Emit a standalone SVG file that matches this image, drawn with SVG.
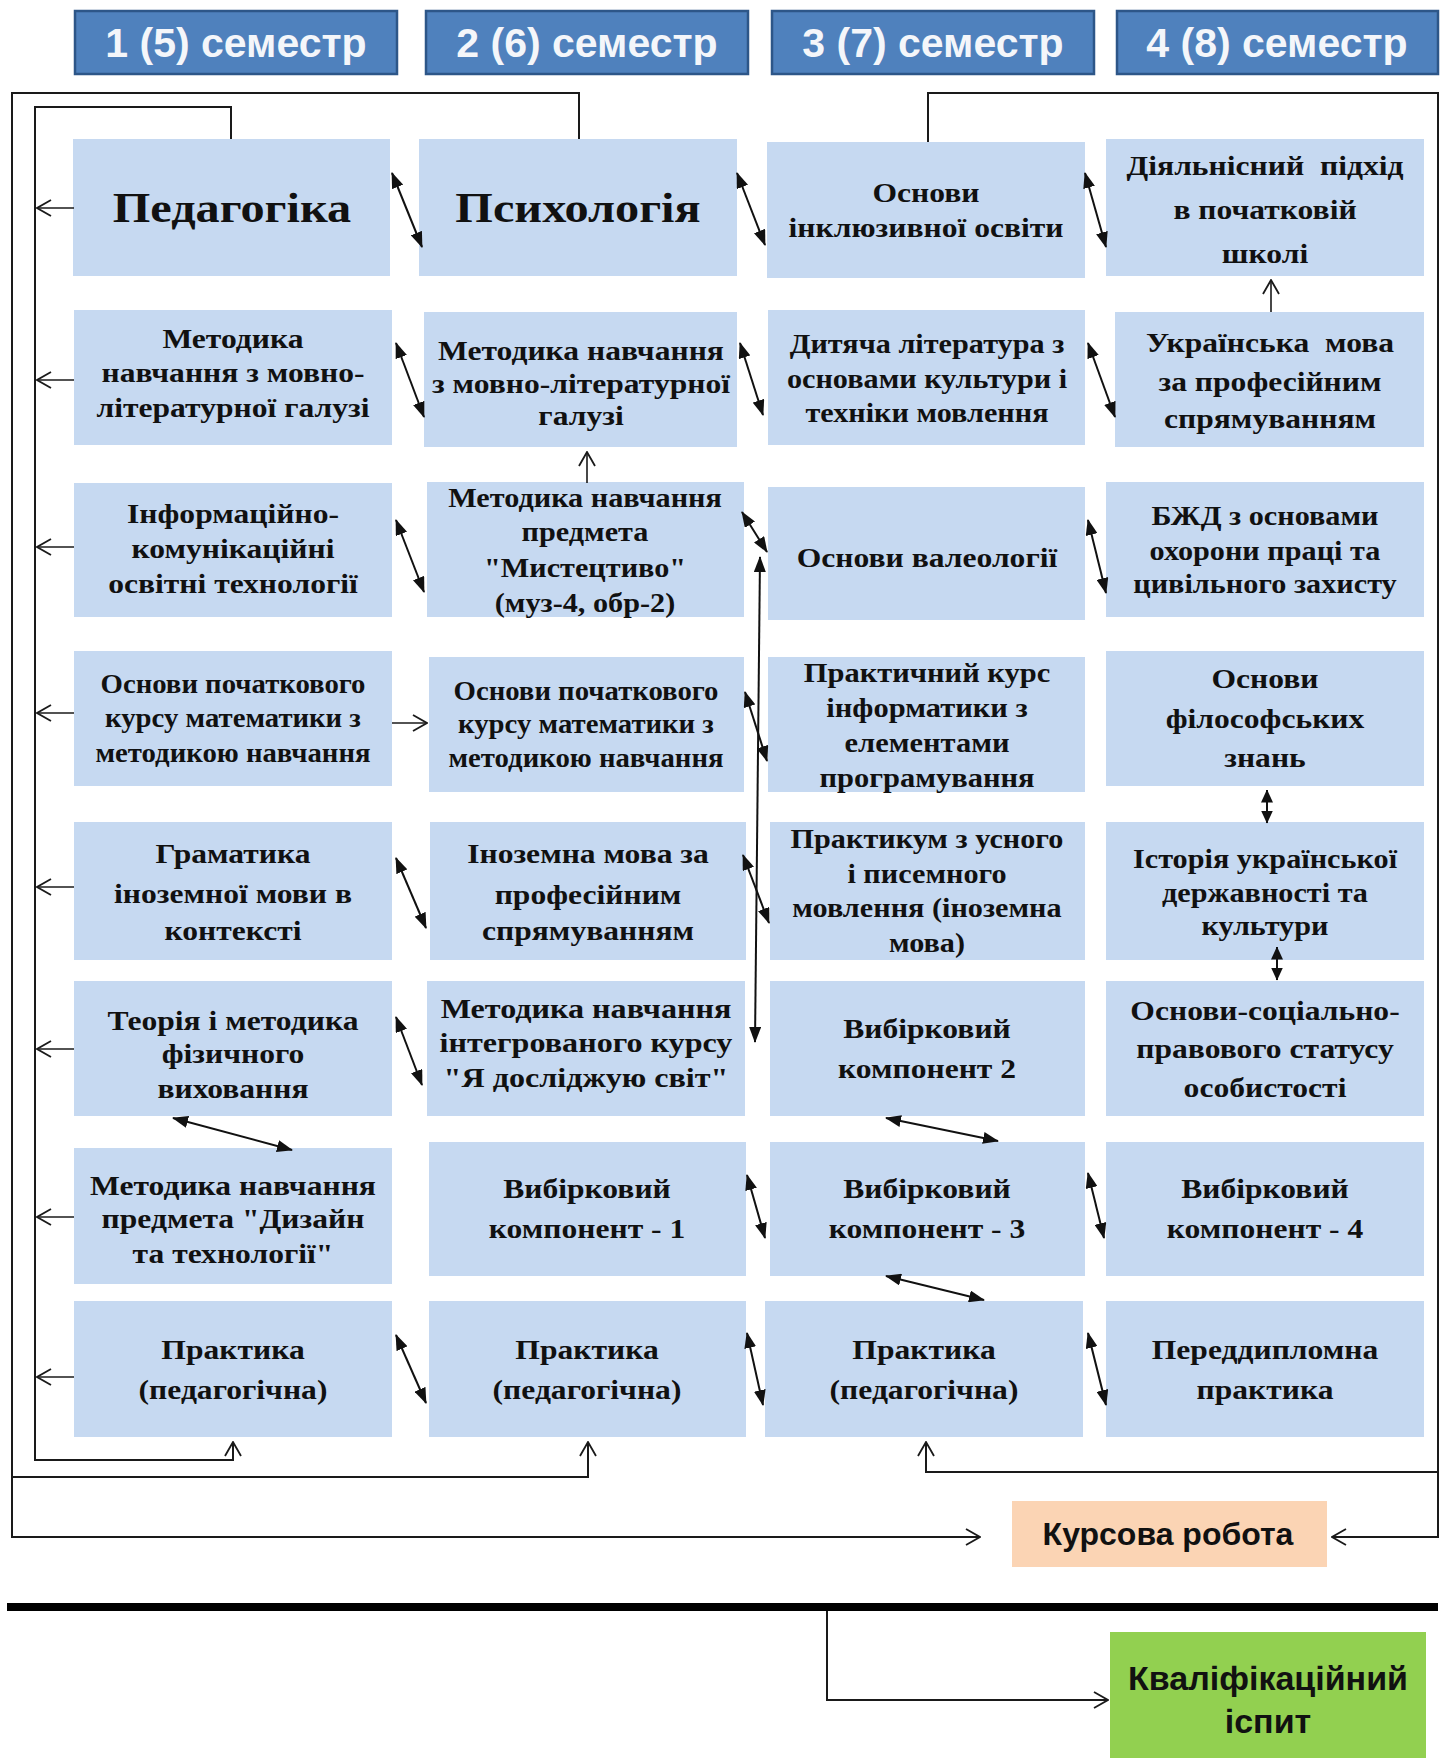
<svg xmlns="http://www.w3.org/2000/svg" width="1445" height="1758" viewBox="0 0 1445 1758">
<defs>
<style>
.n{fill:#c6d9f1}
.t{font-family:"Liberation Serif","Times New Roman",serif;font-weight:bold;font-size:27px;text-anchor:middle;fill:#111}
.big{font-size:42px}
.h{fill:#4f81bd;stroke:#2d5688;stroke-width:2.5}
.ht{font-family:"Liberation Sans",Arial,sans-serif;font-weight:bold;font-size:41px;text-anchor:middle;fill:#f4f6fa}
.ct{font-family:"Liberation Sans",Arial,sans-serif;font-weight:bold;font-size:32px;text-anchor:middle;fill:#111}
.fr{fill:none;stroke:#1a1a1a;stroke-width:2}
.oa{fill:none;stroke:#1a1a1a;stroke-width:1.6;marker-end:url(#open)}
.da{fill:none;stroke:#111;stroke-width:2;marker-start:url(#fill);marker-end:url(#fill)}
.ds{fill:none;stroke:#111;stroke-width:2;marker-start:url(#fills);marker-end:url(#fills)}
</style>
<marker id="open" viewBox="0 0 16 18" refX="15" refY="9" markerWidth="16" markerHeight="18" markerUnits="userSpaceOnUse" orient="auto">
<path d="M1,1 L15,9 L1,17" fill="none" stroke="#1a1a1a" stroke-width="1.8"/>
</marker>
<marker id="fill" viewBox="0 0 16 12" refX="15" refY="6" markerWidth="16" markerHeight="12" markerUnits="userSpaceOnUse" orient="auto-start-reverse">
<path d="M0,0 L16,6 L0,12 z" fill="#111"/>
</marker>
<marker id="fills" viewBox="0 0 13 12" refX="12.5" refY="6" markerWidth="13" markerHeight="12" markerUnits="userSpaceOnUse" orient="auto-start-reverse">
<path d="M0,0 L13,6 L0,12 z" fill="#111"/>
</marker>
</defs>
<rect width="1445" height="1758" fill="#ffffff"/>

<g id="headers">
<g id="h1"><rect class="h" x="75" y="11" width="322" height="63"/><text class="ht" x="236" y="57">1 (5) семестр</text></g>
<g id="h2"><rect class="h" x="426" y="11" width="322" height="63"/><text class="ht" x="587" y="57">2 (6) семестр</text></g>
<g id="h3"><rect class="h" x="772" y="11" width="322" height="63"/><text class="ht" x="933" y="57">3 (7) семестр</text></g>
<g id="h4"><rect class="h" x="1117" y="11" width="321" height="63"/><text class="ht" x="1277" y="57">4 (8) семестр</text></g>
</g>

<g id="r1c1"><rect class="n" x="73" y="139" width="317" height="137"/><text class="t big" transform="matrix(1.15 0 0 1 232 0)" x="0" y="222">Педагогіка</text></g>
<g id="r1c2"><rect class="n" x="419" y="139" width="318" height="137"/><text class="t big" transform="matrix(1.15 0 0 1 578 0)" x="0" y="222">Психологія</text></g>
<g id="r1c3"><rect class="n" x="767" y="142" width="318" height="136"/><text class="t" transform="matrix(1.17 0 0 1 926 0)"><tspan x="0" y="202">Основи</tspan><tspan x="0" y="237">інклюзивної освіти</tspan></text></g>
<g id="r1c4"><rect class="n" x="1106" y="139" width="318" height="137"/><text class="t" style="white-space:pre" transform="matrix(1.17 0 0 1 1265 0)"><tspan x="0" y="175">Діяльнісний  підхід</tspan><tspan x="0" y="219">в початковій</tspan><tspan x="0" y="263">школі</tspan></text></g>

<g id="r2c1"><rect class="n" x="74" y="310" width="318" height="135"/><text class="t" transform="matrix(1.17 0 0 1 233 0)"><tspan x="0" y="348">Методика</tspan><tspan x="0" y="382">навчання з мовно-</tspan><tspan x="0" y="417">літературної галузі</tspan></text></g>
<g id="r2c2"><rect class="n" x="424" y="312" width="313" height="135"/><text class="t" transform="matrix(1.17 0 0 1 581 0)"><tspan x="0" y="360">Методика навчання</tspan><tspan x="0" y="393">з мовно-літературної</tspan><tspan x="0" y="425">галузі</tspan></text></g>
<g id="r2c3"><rect class="n" x="768" y="310" width="317" height="135"/><text class="t" transform="matrix(1.12 0 0 1 927 0)"><tspan x="0" y="353">Дитяча література з</tspan><tspan x="0" y="388">основами культури і</tspan><tspan x="0" y="422">техніки мовлення</tspan></text></g>
<g id="r2c4"><rect class="n" x="1115" y="312" width="309" height="135"/><text class="t" style="white-space:pre" transform="matrix(1.17 0 0 1 1270 0)"><tspan x="0" y="352">Українська  мова</tspan><tspan x="0" y="391">за професійним</tspan><tspan x="0" y="428">спрямуванням</tspan></text></g>

<g id="r3c1"><rect class="n" x="74" y="483" width="318" height="134"/><text class="t" transform="matrix(1.17 0 0 1 233 0)"><tspan x="0" y="523">Інформаційно-</tspan><tspan x="0" y="558">комунікаційні</tspan><tspan x="0" y="593">освітні технології</tspan></text></g>
<g id="r3c2"><rect class="n" x="427" y="482" width="317" height="135"/><text class="t" transform="matrix(1.12 0 0 1 585 0)"><tspan x="0" y="507">Методика навчання</tspan><tspan x="0" y="541">предмета</tspan><tspan x="0" y="577">"Мистецтиво"</tspan><tspan x="0" y="612">(муз-4, обр-2)</tspan></text></g>
<g id="r3c3"><rect class="n" x="768" y="487" width="317" height="133"/><text class="t" transform="matrix(1.17 0 0 1 927 0)" x="0" y="567">Основи валеології</text></g>
<g id="r3c4"><rect class="n" x="1106" y="482" width="318" height="135"/><text class="t" transform="matrix(1.12 0 0 1 1265 0)"><tspan x="0" y="525">БЖД з основами</tspan><tspan x="0" y="560">охорони праці та</tspan><tspan x="0" y="593">цивільного захисту</tspan></text></g>

<g id="r4c1"><rect class="n" x="74" y="651" width="318" height="135"/><text class="t" transform="matrix(1.065 0 0 1 233 0)"><tspan x="0" y="693">Основи початкового</tspan><tspan x="0" y="727">курсу математики з</tspan><tspan x="0" y="762">методикою навчання</tspan></text></g>
<g id="r4c2"><rect class="n" x="429" y="657" width="315" height="135"/><text class="t" transform="matrix(1.065 0 0 1 586 0)"><tspan x="0" y="700">Основи початкового</tspan><tspan x="0" y="733">курсу математики з</tspan><tspan x="0" y="767">методикою навчання</tspan></text></g>
<g id="r4c3"><rect class="n" x="768" y="657" width="317" height="135"/><text class="t" transform="matrix(1.13 0 0 1 927 0)"><tspan x="0" y="682">Практичний курс</tspan><tspan x="0" y="717">інформатики з</tspan><tspan x="0" y="752">елементами</tspan><tspan x="0" y="787">програмування</tspan></text></g>
<g id="r4c4"><rect class="n" x="1106" y="651" width="318" height="135"/><text class="t" transform="matrix(1.17 0 0 1 1265 0)"><tspan x="0" y="688">Основи</tspan><tspan x="0" y="728">філософських</tspan><tspan x="0" y="767">знань</tspan></text></g>

<g id="r5c1"><rect class="n" x="74" y="822" width="318" height="138"/><text class="t" transform="matrix(1.17 0 0 1 233 0)"><tspan x="0" y="863">Граматика</tspan><tspan x="0" y="903">іноземної мови в</tspan><tspan x="0" y="940">контексті</tspan></text></g>
<g id="r5c2"><rect class="n" x="430" y="822" width="316" height="138"/><text class="t" transform="matrix(1.17 0 0 1 588 0)"><tspan x="0" y="863">Іноземна мова за</tspan><tspan x="0" y="904">професійним</tspan><tspan x="0" y="940">спрямуванням</tspan></text></g>
<g id="r5c3"><rect class="n" x="770" y="822" width="315" height="138"/><text class="t" transform="matrix(1.12 0 0 1 927 0)"><tspan x="0" y="848">Практикум з усного</tspan><tspan x="0" y="883">і писемного</tspan><tspan x="0" y="917">мовлення (іноземна</tspan><tspan x="0" y="952">мова)</tspan></text></g>
<g id="r5c4"><rect class="n" x="1106" y="822" width="318" height="138"/><text class="t" transform="matrix(1.12 0 0 1 1265 0)"><tspan x="0" y="868">Історія української</tspan><tspan x="0" y="902">державності та</tspan><tspan x="0" y="935">культури</tspan></text></g>

<g id="r6c1"><rect class="n" x="74" y="981" width="318" height="135"/><text class="t" transform="matrix(1.17 0 0 1 233 0)"><tspan x="0" y="1030">Теорія і методика</tspan><tspan x="0" y="1063">фізичного</tspan><tspan x="0" y="1098">виховання</tspan></text></g>
<g id="r6c2"><rect class="n" x="427" y="981" width="318" height="135"/><text class="t" transform="matrix(1.19 0 0 1 586 0)"><tspan x="0" y="1018">Методика навчання</tspan><tspan x="0" y="1052">інтегрованого курсу</tspan><tspan x="0" y="1087">"Я досліджую світ"</tspan></text></g>
<g id="r6c3"><rect class="n" x="770" y="981" width="315" height="135"/><text class="t" transform="matrix(1.17 0 0 1 927 0)"><tspan x="0" y="1038">Вибірковий</tspan><tspan x="0" y="1078">компонент 2</tspan></text></g>
<g id="r6c4"><rect class="n" x="1106" y="981" width="318" height="135"/><text class="t" transform="matrix(1.17 0 0 1 1265 0)"><tspan x="0" y="1020">Основи-соціально-</tspan><tspan x="0" y="1058">правового статусу</tspan><tspan x="0" y="1097">особистості</tspan></text></g>

<g id="r7c1"><rect class="n" x="74" y="1148" width="318" height="136"/><text class="t" transform="matrix(1.17 0 0 1 233 0)"><tspan x="0" y="1195">Методика навчання</tspan><tspan x="0" y="1228">предмета "Дизайн</tspan><tspan x="0" y="1263">та технології"</tspan></text></g>
<g id="r7c2"><rect class="n" x="429" y="1142" width="317" height="134"/><text class="t" transform="matrix(1.17 0 0 1 587 0)"><tspan x="0" y="1198">Вибірковий</tspan><tspan x="0" y="1238">компонент - 1</tspan></text></g>
<g id="r7c3"><rect class="n" x="770" y="1142" width="315" height="134"/><text class="t" transform="matrix(1.17 0 0 1 927 0)"><tspan x="0" y="1198">Вибірковий</tspan><tspan x="0" y="1238">компонент - 3</tspan></text></g>
<g id="r7c4"><rect class="n" x="1106" y="1142" width="318" height="134"/><text class="t" transform="matrix(1.17 0 0 1 1265 0)"><tspan x="0" y="1198">Вибірковий</tspan><tspan x="0" y="1238">компонент - 4</tspan></text></g>

<g id="r8c1"><rect class="n" x="74" y="1301" width="318" height="136"/><text class="t" transform="matrix(1.17 0 0 1 233 0)"><tspan x="0" y="1359">Практика</tspan><tspan x="0" y="1399">(педагогічна)</tspan></text></g>
<g id="r8c2"><rect class="n" x="429" y="1301" width="317" height="136"/><text class="t" transform="matrix(1.17 0 0 1 587 0)"><tspan x="0" y="1359">Практика</tspan><tspan x="0" y="1399">(педагогічна)</tspan></text></g>
<g id="r8c3"><rect class="n" x="765" y="1301" width="318" height="136"/><text class="t" transform="matrix(1.17 0 0 1 924 0)"><tspan x="0" y="1359">Практика</tspan><tspan x="0" y="1399">(педагогічна)</tspan></text></g>
<g id="r8c4"><rect class="n" x="1106" y="1301" width="318" height="136"/><text class="t" transform="matrix(1.17 0 0 1 1265 0)"><tspan x="0" y="1359">Переддипломна</tspan><tspan x="0" y="1399">практика</tspan></text></g>

<g id="kursova"><rect x="1012" y="1501" width="315" height="66" fill="#fbd4b4"/><text class="ct" x="1168" y="1545">Курсова робота</text></g>
<g id="kvalif"><rect x="1110" y="1632" width="316" height="130" fill="#92d050"/><text class="ct" style="font-size:34px"><tspan x="1268" y="1690">Кваліфікаційний</tspan><tspan x="1268" y="1733">іспит</tspan></text></g>

<g id="connectors">
<path class="fr" d="M579,139 V93 H12 V1537 H980" style="marker-end:url(#open)"/>
<path class="fr" d="M12,1477 H588 V1442" style="marker-end:url(#open)"/>
<path class="fr" d="M231,139 V107 H35 V1460 H233 V1442" style="marker-end:url(#open)"/>
<path class="fr" d="M928,142 V93 H1438 V1537 H1332" style="marker-end:url(#open)"/>
<path class="fr" d="M1438,1472 H926 V1442" style="marker-end:url(#open)"/>
<path d="M7,1607 H1438" stroke="#000" stroke-width="8" fill="none"/>
<path class="fr" d="M827,1611 V1700 H1108" style="marker-end:url(#open)"/>

<path class="oa" d="M74,208 H37"/>
<path class="oa" d="M74,380 H37"/>
<path class="oa" d="M74,547 H37"/>
<path class="oa" d="M74,713 H37"/>
<path class="oa" d="M74,887 H37"/>
<path class="oa" d="M74,1049 H37"/>
<path class="oa" d="M74,1217 H37"/>
<path class="oa" d="M74,1377 H37"/>

<path class="oa" d="M587,483 V452"/>
<path class="oa" d="M1271,312 V280"/>
<path class="oa" d="M392,723 H427"/>

<path class="da" d="M392,173 L422,247"/>
<path class="da" d="M737,173 L765,245"/>
<path class="da" d="M1085,173 L1106,247"/>
<path class="da" d="M396,343 L424,417"/>
<path class="da" d="M740,343 L763,415"/>
<path class="da" d="M1088,343 L1115,417"/>
<path class="da" d="M396,520 L424,592"/>
<path class="da" d="M742,512 L767,552"/>
<path class="da" d="M1088,520 L1106,593"/>
<path class="da" d="M745,692 L767,761"/>
<path class="da" d="M396,858 L426,928"/>
<path class="da" d="M743,855 L769,923"/>
<path class="da" d="M396,1017 L422,1085"/>
<path class="da" d="M747,1175 L765,1238"/>
<path class="da" d="M1088,1173 L1104,1238"/>
<path class="da" d="M396,1335 L426,1403"/>
<path class="da" d="M747,1333 L763,1405"/>
<path class="da" d="M1088,1333 L1106,1405"/>
<path class="da" d="M760,557 L755,1042"/>
<path class="ds" d="M1267,790 L1267,823"/>
<path class="ds" d="M1277,947 L1277,980"/>
<path class="da" d="M173,1118 L292,1150"/>
<path class="da" d="M886,1118 L998,1141"/>
<path class="da" d="M886,1276 L984,1300"/>
</g>
</svg>
